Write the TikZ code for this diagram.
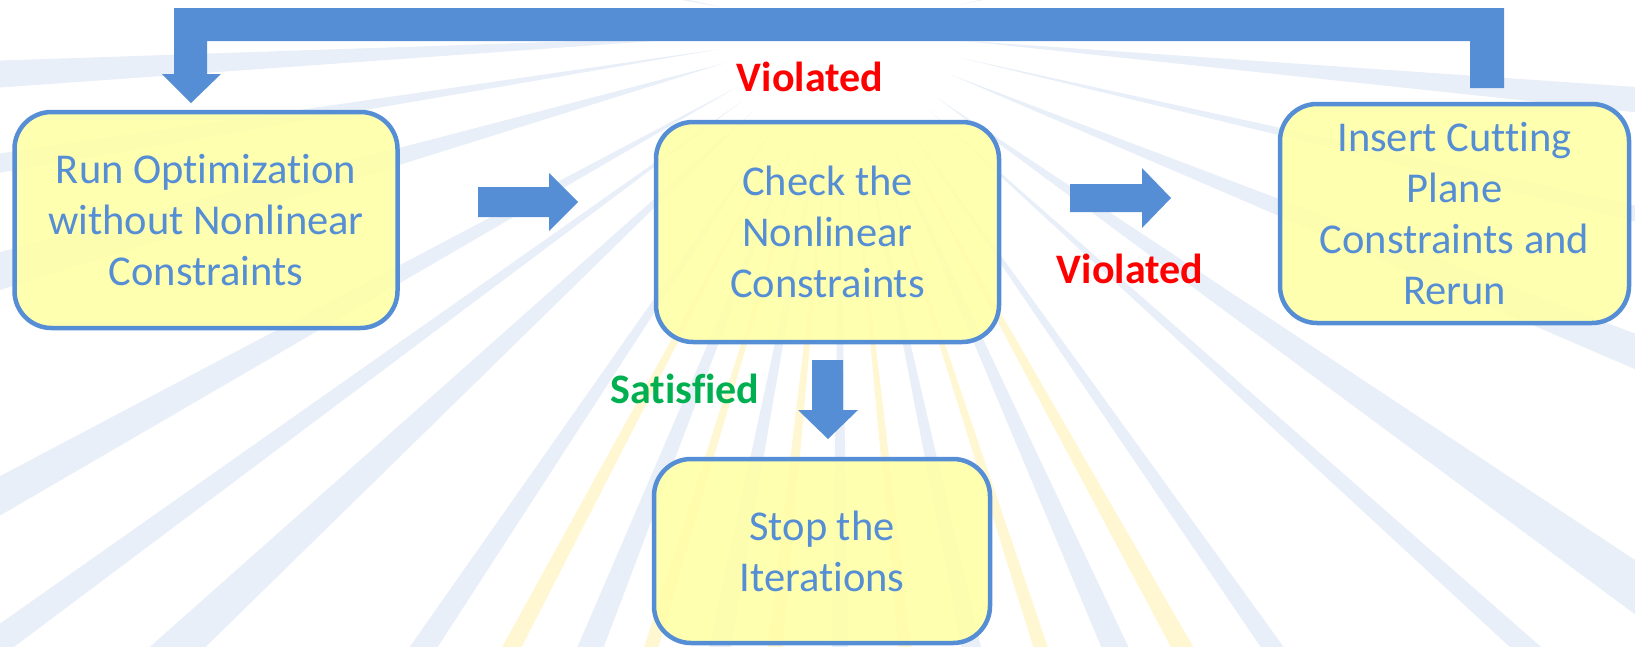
\documentclass[tikz,border=0pt]{standalone}
\usepackage{fontspec}
\setmainfont[Ligatures=NoCommon]{Carlito}
\definecolor{mblue}{RGB}{85,142,213}
\definecolor{bfill}{RGB}{255,255,166}
\definecolor{vred}{RGB}{255,0,0}
\definecolor{sgreen}{RGB}{0,176,80}
\definecolor{rayblue}{RGB}{226,234,246}
\definecolor{rayyellow}{RGB}{255,244,196}
\begin{document}
\begin{tikzpicture}[x=1pt,y=-1pt,
  box/.style={draw=mblue, line width=4.5pt, fill=bfill, fill opacity=0.88, text opacity=1,
    rounded corners=37pt, align=center, text=mblue,
    font=\fontsize{42.5}{51}\selectfont, inner sep=0pt},
  blockarrow/.style={fill=mblue},
  lab/.style={font=\fontsize{42}{50}\selectfont\bfseries, inner sep=0pt},
  ray/.style={fill=#1, opacity=0.75}]
\useasboundingbox (0,0) rectangle (1635,646);
\fill[white] (0,0) rectangle (1635,646);
% background sunburst
\begin{scope}
\clip (0,0) rectangle (1635,646);
\foreach \a/\w/\c in {-12/0.8/rayblue, 5/1.0/rayblue, 13/0.6/rayblue,
  22/1.2/rayblue, 35/1.4/rayblue, 42/0.7/rayblue,
  55/0.8/rayblue, 61/0.9/rayyellow, 66/1.2/rayblue, 72/0.7/rayyellow, 78/1.0/rayblue,
  84/0.7/rayyellow, 90/0.9/rayblue, 96/0.8/rayyellow, 101/1.1/rayblue, 107/0.7/rayyellow,
  112/1.2/rayblue, 118/0.8/rayyellow, 124/1.0/rayblue, 137/1.3/rayblue,
  144/0.8/rayblue, 151/1.1/rayblue, 164/1.3/rayblue, 171/0.7/rayblue,
  177/1.0/rayblue, 191/1.1/rayblue, 250/2.5/rayyellow,
  280/2.5/rayyellow, 300/1.5/rayblue, 235/1.5/rayblue}
  \fill[ray=\c, shift={(840,30)}] (\a:120) -- (\a-\w:1900) -- (\a+\w:1900) -- cycle;
\end{scope}
% boxes
\node[box, minimum width=383pt, minimum height=216pt] (run) at (206,220)
  {Run Optimization\\without Nonlinear\\Constraints};
\node[box, minimum width=343pt, minimum height=220pt] (check) at (827.5,232)
  {Check the\\Nonlinear\\Constraints};
\node[box, minimum width=349pt, minimum height=219pt] (insert) at (1454.5,213.5)
  {Insert Cutting\\Plane\\Constraints and\\Rerun};
\node[box, minimum width=336pt, minimum height=184pt] (stop) at (822,551)
  {Stop the\\Iterations};
% labels
\node[lab, text=vred] (v1) at (810,77) {Violated};
\node[lab, text=vred] (v2) at (1130,269) {Violated};
\node[lab, text=sgreen] (sat) at (685,389) {Satisfied};
% block arrows
\fill[blockarrow] (478,187) -- (549,187) -- (549,173) -- (578,202) -- (549,231)
  -- (549,217) -- (478,217) -- cycle;
\fill[blockarrow] (1070,184) -- (1142,184) -- (1142,168) -- (1171,198) -- (1142,228)
  -- (1142,212) -- (1070,212) -- cycle;
\fill[blockarrow] (812,360) -- (843,360) -- (843,410) -- (858,410) -- (828,439)
  -- (798,410) -- (812,410) -- cycle;
\fill[blockarrow] (1504,8) -- (174,8) -- (174,74) -- (162,74) -- (191,103) -- (221,74)
  -- (207,74) -- (207,41) -- (1470,41) -- (1470,88) -- (1504,88) -- cycle;
\end{tikzpicture}
\end{document}
